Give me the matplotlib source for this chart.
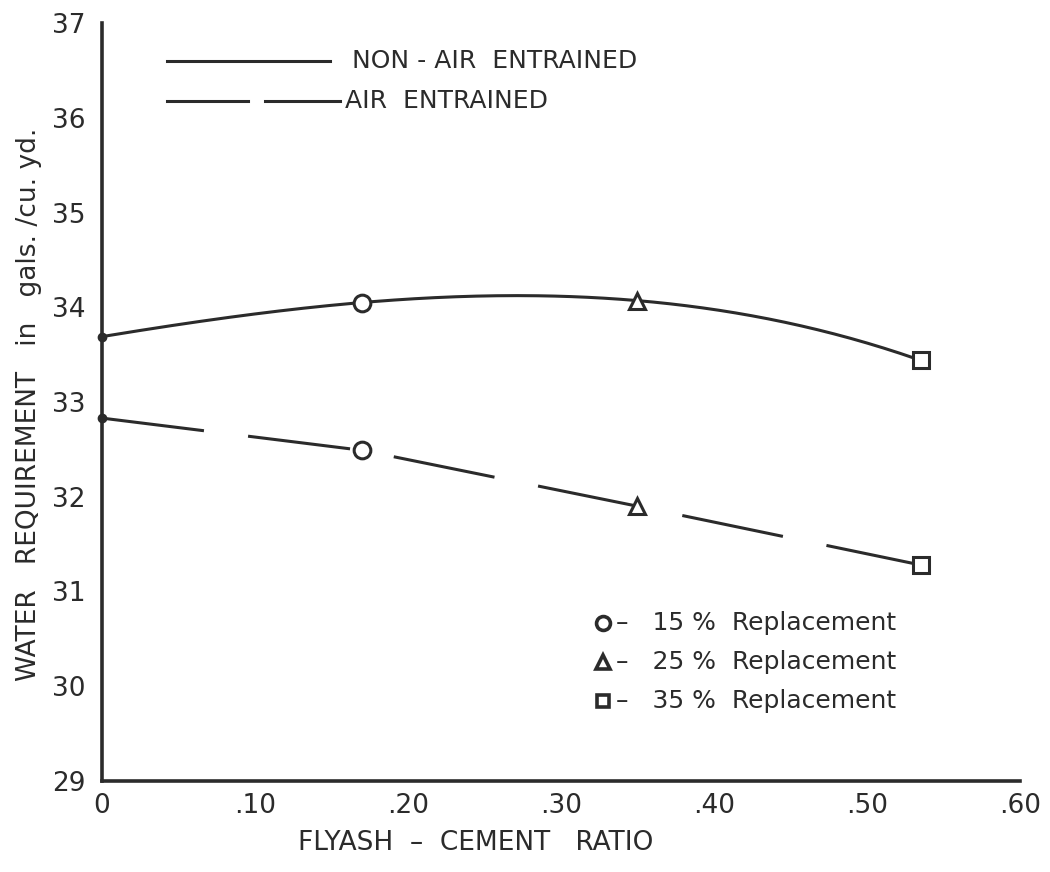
import numpy as np
import matplotlib
matplotlib.use("Agg")
import matplotlib.pyplot as plt
from matplotlib.lines import Line2D

# Flyash-cement ratio at each mix (0 = plain cement)
ratio = [0.0, 0.17, 0.35, 0.535]
# Water requirement, gals./cu. yd.
non_air = [33.69, 34.05, 34.07, 33.44]
air = [32.83, 32.49, 31.90, 31.28]
# Marker per replacement level (first point is the control mix)
replacement_labels = ["15 %", "25 %", "35 %"]
replacement_markers = ["o", "^", "s"]

x_ticks = [0, 0.10, 0.20, 0.30, 0.40, 0.50, 0.60]
x_tick_labels = ["0", ".10", ".20", ".30", ".40", ".50", ".60"]
y_ticks = [29, 30, 31, 32, 33, 34, 35, 36, 37]

ink = "#2b2b2b"
plt.rcParams["lines.scale_dashes"] = False
plt.rcParams["font.family"] = ["DejaVu Sans"]

fig = plt.figure(figsize=(10.5, 8.72), dpi=100)
ax = fig.add_axes([0.0971, 0.1044, 0.8743, 0.8692])
ax.set_xlim(0, 0.60)
ax.set_ylim(29, 37)

# Smooth curve through the non-air-entrained points
coef = np.polyfit(ratio, non_air, 3)
xs = np.linspace(ratio[0], ratio[-1], 200)
ax.plot(xs, np.polyval(coef, xs), color=ink, lw=2.2, solid_capstyle="butt", zorder=2)

# Dashed air-entrained line
dash = (0, (74, 32))
ax.plot(ratio, air, color=ink, lw=2.2, linestyle=dash, dash_capstyle="butt", zorder=2)

# Control points on the axis
ax.plot([ratio[0]] * 2, [non_air[0], air[0]], linestyle="none", marker="o",
        ms=6, color=ink, zorder=4, clip_on=False)

# Replacement markers on both series
for i, m in enumerate(replacement_markers, start=1):
    for series in (non_air, air):
        ax.plot(ratio[i], series[i], marker=m, ms=12 if m != "s" else 11,
                mfc="white", mec=ink, mew=2.2, linestyle="none", zorder=5)

# Axis styling
for s in ("top", "right"):
    ax.spines[s].set_visible(False)
for s in ("left", "bottom"):
    ax.spines[s].set_linewidth(2.6)
    ax.spines[s].set_color(ink)
ax.set_xticks(x_ticks)
ax.set_xticklabels(x_tick_labels)
ax.set_yticks(y_ticks)
ax.tick_params(length=0, labelsize=19, colors=ink)
ax.tick_params(axis="x", pad=9)
ax.tick_params(axis="y", pad=12)

ax.set_xlabel("FLYASH  –  CEMENT   RATIO", fontsize=19, color=ink)
ax.xaxis.set_label_coords(0.407, -0.065)
ax.set_ylabel("WATER   REQUIREMENT   in   gals. /cu. yd.", fontsize=19, color=ink)
ax.yaxis.set_label_coords(-0.065, 0.497)

# Line-style key
tr = ax.transAxes
ax.add_line(Line2D([0.0708, 0.2484], [0.9499, 0.9499], transform=tr, color=ink, lw=2.2))
ax.add_line(Line2D([0.0708, 0.159], [0.8971, 0.8971], transform=tr, color=ink, lw=2.2))
ax.add_line(Line2D([0.1776, 0.2593], [0.8971, 0.8971], transform=tr, color=ink, lw=2.2))
ax.text(0.2723, 0.9499, "NON - AIR  ENTRAINED", transform=tr, fontsize=18,
        va="center", ha="left", color=ink)
ax.text(0.2647, 0.8971, "AIR  ENTRAINED", transform=tr, fontsize=18,
        va="center", ha="left", color=ink)

# Marker key
rows = [0.2084, 0.1570, 0.1055]
for y, m, lab in zip(rows, replacement_markers, replacement_labels):
    ax.plot(0.5458, y, marker=m, ms=10 if m != "s" else 9, mfc="white", mec=ink,
            mew=2.6, transform=tr, linestyle="none", clip_on=False)
    ax.text(0.5600, y, "–   " + lab + "  Replacement", transform=tr, fontsize=18,
            va="center", ha="left", color=ink)

fig.savefig("out.png", dpi=100, facecolor="white")
